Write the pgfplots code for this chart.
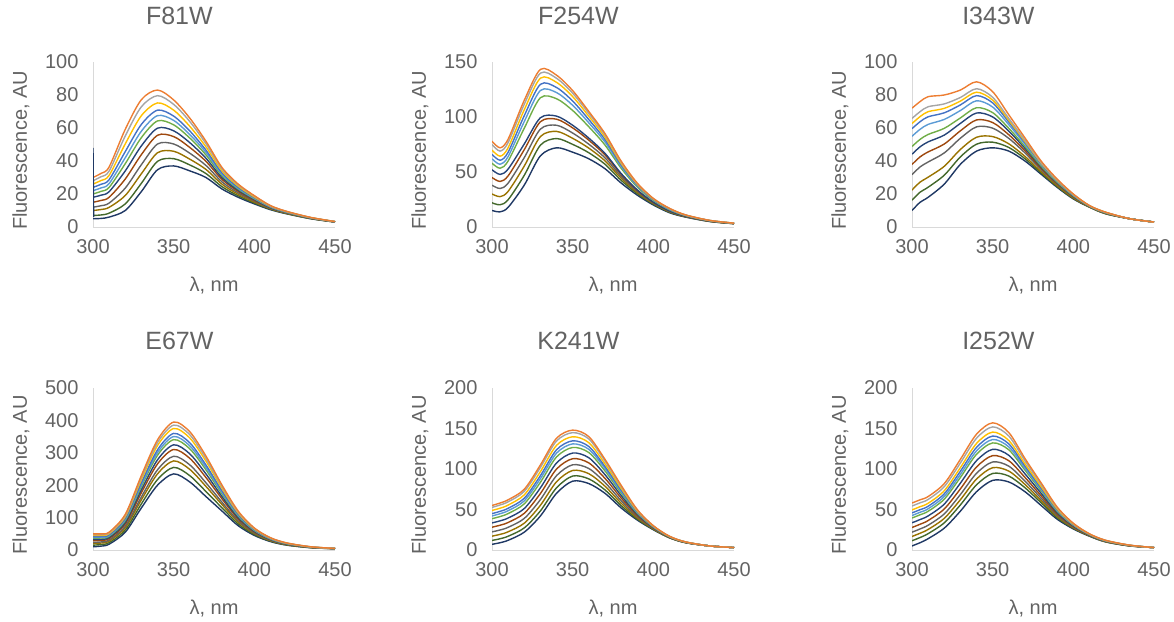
\documentclass[border=0pt]{standalone}
\usepackage{pgfplots}
\pgfplotsset{compat=1.18}
\usepackage{pgfplotstable}
\usepackage{fontspec}
\setmainfont{Liberation Sans}
\definecolor{ca}{HTML}{ED7D31}
\definecolor{cb}{HTML}{A5A5A5}
\definecolor{cc}{HTML}{FFC000}
\definecolor{cd}{HTML}{4472C4}
\definecolor{ce}{HTML}{5B9BD5}
\definecolor{cf}{HTML}{70AD47}
\definecolor{cg}{HTML}{264478}
\definecolor{ch}{HTML}{9E480E}
\definecolor{ci}{HTML}{636363}
\definecolor{cj}{HTML}{997300}
\definecolor{ck}{HTML}{43682B}
\definecolor{cl}{HTML}{1F3864}
\definecolor{axgrey}{HTML}{D9D9D9}
\definecolor{txtgrey}{HTML}{636363}

\pgfplotstableread{
x a b c d e f g h i j k l
300 30 28 26 24 22 20 18 15 12 10 7 5
305 32.5 30.5 28.2 25.9 23.7 21.6 19.3 16.1 12.9 10.6 7.3 5.2
310 36.4 33.9 31.3 28.7 26.3 24.0 21.4 18.0 14.5 11.9 8.4 6.0
320 59.2 55.2 50.4 45.7 42.0 38.4 34.0 29.1 23.6 19.1 14.0 10.0
330 77.2 72.9 67.5 62.2 58.1 54.2 49.2 43.9 37.8 32.3 26.5 21.5
340 83 79.6 75.2 70.8 67.5 64.3 59.9 55.6 50.3 45.0 39.8 34.7
350 77 74.3 70.8 67.2 64.6 61.9 58.3 54.8 50.3 45.9 41.4 37
360 66 63.9 61.0 58.2 56.0 53.9 51.1 48.2 44.7 41.1 37.6 34
370 52 50.5 48.6 46.6 45.2 43.7 41.7 39.8 37.3 34.9 32.4 30
380 36 35.1 34.0 32.8 32.0 31.1 29.9 28.8 27.3 25.9 24.4 23
390 26 25.5 24.8 24.0 23.5 23.0 22.3 21.6 20.7 19.8 18.9 18
400 19 18.7 18.2 17.8 17.4 17.1 16.7 16.2 15.7 15.1 14.6 14
410 13 12.8 12.6 12.4 12.2 12.1 11.8 11.6 11.3 11.1 10.8 10.5
420 9.5 9.4 9.3 9.1 9.0 8.9 8.8 8.7 8.5 8.3 8.2 8
435 5.8 5.7 5.7 5.6 5.6 5.5 5.4 5.4 5.3 5.2 5.1 5
450 3.3 3.3 3.3 3.2 3.2 3.2 3.2 3.1 3.1 3.1 3.0 3.0
}\tA

\pgfplotstableread{
x a b c d e f g h i j k l
300 78 75 70 66 62 58 52 45 38 30 22 15
305 72 69 64.4 60.7 57 53.4 47.8 41.4 35 27.6 20.2 13.8
310 79.9 76.8 72.1 68.0 64.0 60.0 52.7 46.5 39.9 32.4 24.8 17.9
320 115.2 111.6 106.6 101.2 95.9 89.8 75.5 70.3 63.1 55.4 47.0 38.1
330 143.3 139.9 135.3 129.7 124.1 117.5 99.3 95.7 89.0 82.2 74.4 64.7
340 138 135.2 131.5 126.8 122.2 116.6 100.8 98.0 92.5 86.9 80.4 72
350 124 121.6 118.5 114.5 110.6 105.9 92.5 90.1 85.4 80.6 75.1 68
360 105 103.2 100.7 97.7 94.7 91.1 80.8 78.9 75.3 71.7 67.5 62
370 85 83.7 81.8 79.6 77.4 74.6 67.0 65.6 62.9 60.2 57.1 53
380 60 59.2 58.0 56.6 55.2 53.5 48.7 47.9 46.2 44.5 42.5 40
390 40 39.5 38.9 38.1 37.4 36.4 33.8 33.3 32.4 31.5 30.4 29
400 26 25.7 25.4 25.0 24.6 24.1 22.6 22.4 21.9 21.4 20.8 20
410 17 16.8 16.6 16.3 16.0 15.7 14.7 14.6 14.2 13.9 13.5 13
420 11 10.9 10.8 10.7 10.5 10.4 9.9 9.8 9.6 9.5 9.3 9
435 6 6 5.9 5.8 5.8 5.7 5.4 5.4 5.3 5.2 5.1 5
450 3.5 3.5 3.5 3.4 3.4 3.3 3.2 3.2 3.2 3.1 3.1 3
}\tB

\pgfplotstableread{
x a b c d e f g h i j k l
300 72 65.8 62.7 59.6 55.0 48.8 44.1 37.9 31.7 22.4 16.2 10
305 76 69.9 66.9 63.8 59.2 53.1 48.6 42.5 36.4 27.2 21.1 15
310 79 72.9 69.9 66.8 62.2 56.1 51.6 45.5 39.4 30.2 24.1 18
320 80 74.6 71.9 69.2 65.2 59.8 55.7 50.3 44.9 36.8 31.4 26
330 83 78.5 76.3 74 70.6 66.1 62.8 58.3 53.8 47 42.5 38
340 88 83.8 81.7 79.6 76.5 72.3 69.1 64.9 60.7 54.4 50.2 46
350 82 78.6 76.9 75.2 72.7 69.3 66.7 63.3 59.9 54.8 51.4 48
360 68 65.8 64.7 63.6 62 59.8 58.1 55.9 53.7 50.4 48.2 46
370 54 52.6 51.9 51.2 50.2 48.8 47.7 46.3 44.9 42.8 41.4 40
380 40 39.2 38.8 38.4 37.8 37 36.4 35.6 34.8 33.6 32.8 32
390 29 28.5 28.3 28 27.6 27.1 26.8 26.3 25.8 25 24.5 24
400 20 19.7 19.6 19.4 19.2 18.9 18.7 18.4 18.1 17.6 17.3 17
410 13 12.9 12.9 12.8 12.7 12.6 12.6 12.5 12.4 12.2 12.1 12
420 9 8.9 8.9 8.8 8.7 8.6 8.6 8.5 8.4 8.2 8.1 8
435 5 5 5 5 5 5 5 5 5 5 5 5
450 3 3 3 3 3 3 3 3 3 3 3 3
}\tC

\pgfplotstableread{
x a b c d e f g h i j k l
300 50 47.6 45 41.2 38.8 36.4 32.4 28.8 23.6 20 15 10
305 50 47.7 45.3 41.6 39.4 37.1 33.3 29.9 24.9 21.5 16.8 12
310 55 52.8 50.4 46.9 44.6 42.4 38.7 35.4 30.6 27.3 22.6 18
320 110 106.7 103.1 97.9 94.6 91.3 85.8 80.9 73.7 68.8 61.9 55
330 230 224 217.5 208 202 196 186 177 164 155 142.5 130
340 340 331.6 322.5 309.2 300.8 292.4 278.4 265.8 247.6 235 217.5 200
350 395 385.4 375 359.8 350.2 340.6 324.6 310.2 289.4 275 255 235
360 365 355.7 345.6 330.9 321.6 312.3 296.8 282.9 262.7 248.8 229.4 210
370 290 282.5 274.4 262.5 255 247.5 235 223.8 207.5 196.3 180.6 165
380 200 195.2 190 182.4 177.6 172.8 164.8 157.6 147.2 140 130 120
390 120 117.3 114.4 110.1 107.4 104.7 100.2 96.2 90.3 86.3 80.6 75
400 68 66.6 65.1 62.9 61.6 60.2 57.9 55.8 52.8 50.8 47.9 45
410 38 37.3 36.5 35.4 34.6 33.9 32.7 31.6 30.1 29 27.5 26
420 22 21.6 21.1 20.5 20 19.6 18.9 18.3 17.4 16.8 15.9 15
435 10 9.8 9.6 9.3 9.2 9 8.7 8.4 8 7.8 7.4 7
450 5 4.9 4.9 4.8 4.7 4.7 4.6 4.5 4.3 4.3 4.1 4
}\tD

\pgfplotstableread{
x a b c d e f g h i j k l
300 55 52.6 48.8 44.9 42 38.7 33.4 28.1 22.4 17.1 11.8 7
305 58 55.6 51.6 47.7 44.8 41.3 36 30.6 24.7 19.3 13.9 9
310 62 59.5 55.5 51.5 48.5 45 39.5 34 28 22.5 17 12
320 75 72.4 68.1 63.9 60.7 57 51.2 45.3 39 33.1 27.3 22
330 105 101.9 96.8 91.8 88 83.6 76.7 69.7 62.2 55.2 48.3 42
340 138 134.6 129.2 123.7 119.6 114.9 107.4 99.9 91.8 84.3 76.8 70
350 148 144.9 139.8 134.8 131 126.6 119.7 112.7 105.2 98.2 91.3 85
360 140 137.1 132.5 127.8 124.3 120.3 113.9 107.5 100.6 94.2 87.8 82
370 112 109.9 106.5 103.2 100.7 97.7 93.1 88.5 83.4 78.8 74.2 70
380 80 78.6 76.4 74.1 72.4 70.5 67.4 64.3 61 57.9 54.8 52
390 50 49.4 48.3 47.3 46.5 45.6 44.2 42.7 41.2 39.7 38.3 37
400 30 29.8 29.4 29 28.7 28.3 27.8 27.2 26.6 26.1 25.5 25
410 17 16.9 16.7 16.6 16.5 16.3 16.1 15.9 15.6 15.4 15.2 15
420 10 10 9.9 9.8 9.7 9.7 9.6 9.4 9.3 9.2 9.1 9
435 5 5 5 5 5 5 5 5 5 5 5 5
450 3 3 3 3 3 3 3 3 3 3 3 3
}\tE

\pgfplotstableread{
x a b c d e f g h i j k l
300 58 54.3 49.5 45.8 42.6 39.5 33.6 27.8 22 16.7 11.4 5
305 62 58.3 53.5 49.8 46.6 43.5 37.6 31.8 26 20.7 15.4 9
310 66 62.4 57.7 54 50.9 47.8 42.1 36.4 30.6 25.4 20.2 14
320 82 78.2 73.2 69.4 66.1 62.8 56.7 50.7 44.6 39.1 33.6 27
330 112 107.5 101.8 97.3 93.4 89.6 82.6 75.5 68.5 62.1 55.7 48
340 143 138 131.6 126.7 122.4 118.2 110.3 102.5 94.7 87.6 80.5 72
350 157 152 145.6 140.7 136.4 132.2 124.3 116.5 108.7 101.6 94.5 86
360 145 140.7 135.2 131 127.3 123.7 116.9 110.2 103.5 97.4 91.3 84
370 113 110.1 106.4 103.6 101.1 98.7 94.1 89.6 85.1 81 76.9 72
380 83 81 78.5 76.6 74.9 73.2 70.1 67 64 61.2 58.4 55
390 53 52 50.6 49.6 48.7 47.8 46.1 44.5 42.8 41.3 39.8 38
400 33 32.5 31.9 31.4 31 30.6 29.8 29 28.2 27.5 26.8 26
410 20 19.8 19.5 19.3 19.1 19 18.6 18.3 18 17.7 17.4 17
420 12 11.9 11.7 11.5 11.4 11.3 11.1 10.9 10.6 10.4 10.2 10
435 6 5.9 5.8 5.8 5.7 5.7 5.5 5.4 5.3 5.2 5.1 5
450 3 3 3 3 3 3 3 3 3 3 3 3
}\tF

\pgfplotsset{
  panel/.style={
    scale only axis, width=242pt,
    xmin=300, xmax=450, ymin=0,
    xtick={300,350,400,450},
    axis x line*=bottom, axis y line*=left,
    axis line style={draw=axgrey, line width=0.9pt, -},
    major tick length=0pt,
    /pgf/number format/assume math mode=true,
    tick label style={font=\fontsize{20}{23}\selectfont, text=txtgrey},
    xticklabel style={yshift=-9pt},
    yticklabel style={xshift=-11pt},
    xlabel={λ, nm}, ylabel={Fluorescence, AU},
    label style={font=\fontsize{20}{24}\selectfont, text=txtgrey},
    xlabel style={at={(axis description cs:0.5,0)}, anchor=center, yshift=-59pt},
    ylabel style={at={(axis description cs:-0.2975,0.464)}, anchor=center},
    title style={font=\fontsize{25}{30}\selectfont, text=txtgrey, at={(axis description cs:0.357,1.24)}, anchor=center},
    every axis plot/.append style={line width=1.4pt, smooth, no markers},
  },
  row2/.style={height=162pt, title style={at={(axis description cs:0.357,1.253)}}},
}

\begin{document}
\begin{tikzpicture}
\path[use as bounding box] (0,0) rectangle (1174pt,621pt);

\begin{axis}[panel, height=165pt, at={(93pt,394pt)}, anchor=south west,
  ymax=100, ytick={0,20,40,60,80,100}, title={F81W}]
\pgfplotsinvokeforeach{l,k,j,i,h,g,f,e,d,c,b,a}{\addplot[color=c#1] table[x=x,y=#1]{\tA};}
\addplot[color=cl] coordinates {(300,48) (300.4,6)};
\end{axis}

\begin{axis}[panel, height=165pt, at={(492pt,394pt)}, anchor=south west,
  ymax=150, ytick={0,50,100,150}, title={F254W}]
\pgfplotsinvokeforeach{l,k,j,i,h,g,f,e,d,c,b,a}{\addplot[color=c#1] table[x=x,y=#1]{\tB};}
\end{axis}

\begin{axis}[panel, height=165pt, at={(912pt,394pt)}, anchor=south west,
  ymax=100, ytick={0,20,40,60,80,100}, title={I343W}]
\pgfplotsinvokeforeach{l,k,j,i,h,g,f,e,d,c,b,a}{\addplot[color=c#1] table[x=x,y=#1]{\tC};}
\end{axis}

\begin{axis}[panel, row2, at={(93pt,71pt)}, anchor=south west,
  ymax=500, ytick={0,100,200,300,400,500}, title={E67W}]
\pgfplotsinvokeforeach{l,k,j,i,h,g,f,e,d,c,b,a}{\addplot[color=c#1] table[x=x,y=#1]{\tD};}
\end{axis}

\begin{axis}[panel, row2, at={(492pt,71pt)}, anchor=south west,
  ymax=200, ytick={0,50,100,150,200}, title={K241W}]
\pgfplotsinvokeforeach{l,k,j,i,h,g,f,e,d,c,b,a}{\addplot[color=c#1] table[x=x,y=#1]{\tE};}
\end{axis}

\begin{axis}[panel, row2, at={(912pt,71pt)}, anchor=south west,
  ymax=200, ytick={0,50,100,150,200}, title={I252W}]
\pgfplotsinvokeforeach{l,k,j,i,h,g,f,e,d,c,b,a}{\addplot[color=c#1] table[x=x,y=#1]{\tF};}
\end{axis}
\end{tikzpicture}
\end{document}
